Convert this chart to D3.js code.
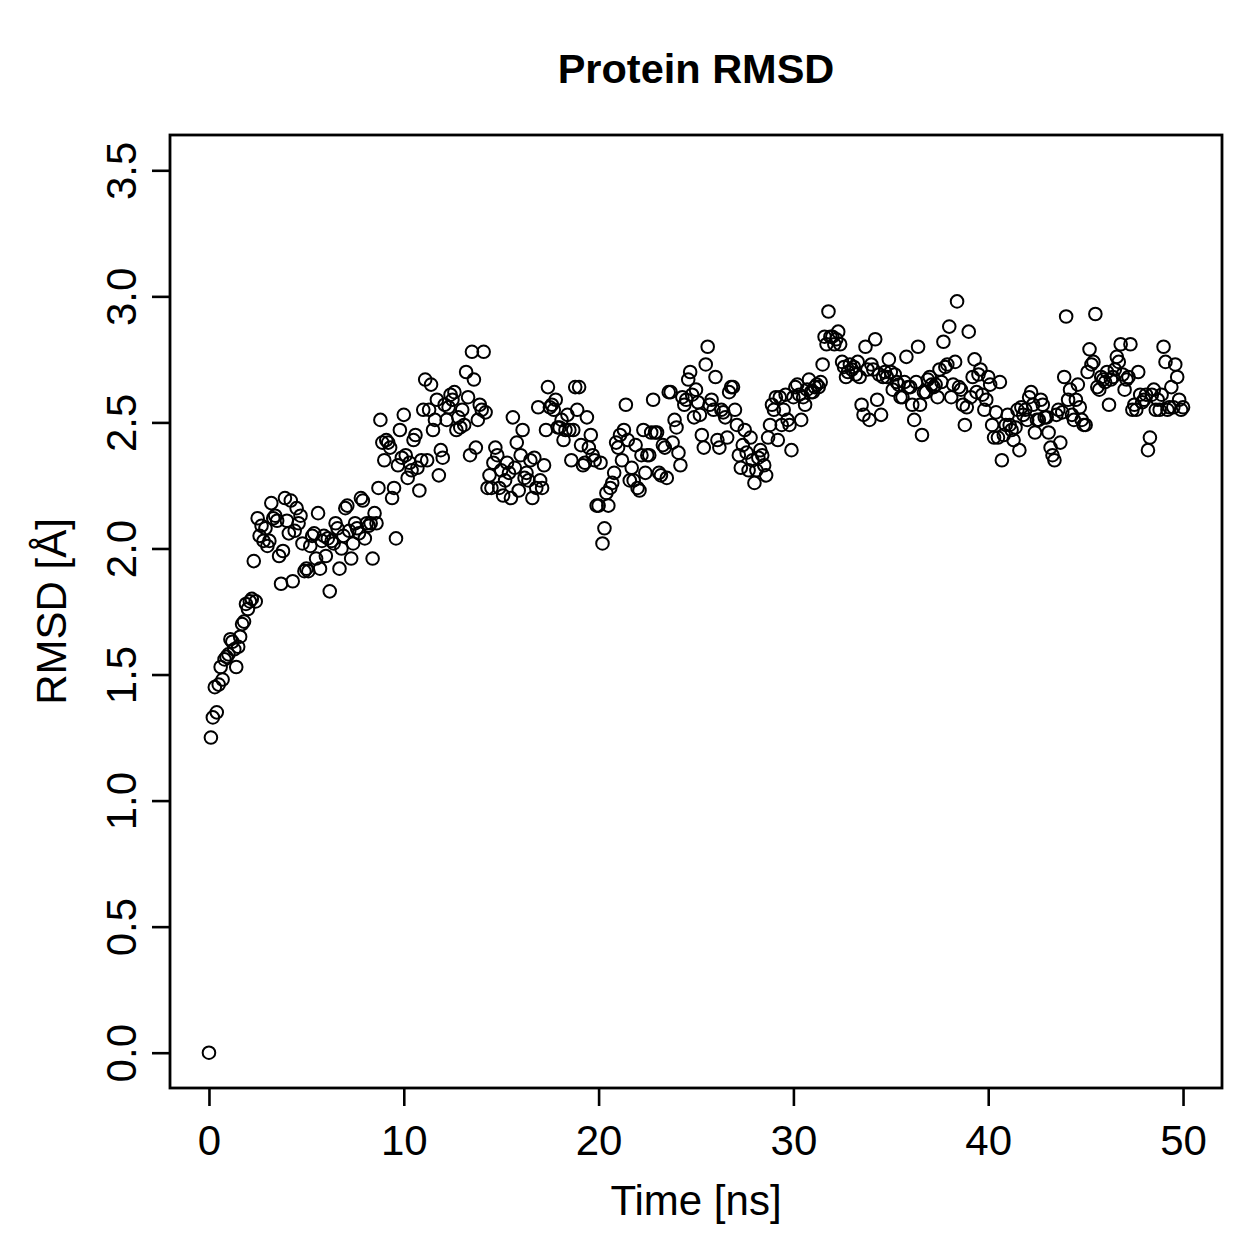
<!DOCTYPE html>
<html lang="en">
<head>
<meta charset="utf-8">
<title>Protein RMSD</title>
<script src="https://cdn.jsdelivr.net/npm/d3@7/dist/d3.min.js"></script>
<style>
    body { margin: 0; background: white; }
    svg text { font-family: "Liberation Sans", Arial, sans-serif; fill: black; }
</style>
</head>
<body>
<div id="chart"></div>
<script>
// trajectory frames every 0.1 ns, RMSD in Angstrom
const timeStep = 0.1;
const rmsd = [
    0.00, 1.25, 1.33, 1.45, 1.35, 1.46, 1.53, 1.48, 1.56, 1.57,
    1.58, 1.64, 1.63, 1.60, 1.53, 1.61, 1.65, 1.70, 1.71, 1.78,
    1.76, 1.79, 1.80, 1.95, 1.79, 2.12, 2.05, 2.09, 2.03, 2.08,
    2.01, 2.03, 2.18, 2.12, 2.13, 2.11, 1.97, 1.86, 1.99, 2.20,
    2.11, 2.06, 2.19, 1.87, 2.07, 2.16, 2.10, 2.13, 2.02, 1.91,
    1.92, 1.91, 2.01, 2.05, 2.06, 1.96, 2.14, 1.92, 2.03, 2.05,
    1.97, 2.04, 1.83, 2.03, 2.02, 2.10, 2.08, 1.92, 2.00, 2.05,
    2.16, 2.17, 2.07, 1.96, 2.02, 2.10, 2.08, 2.06, 2.20, 2.19,
    2.04, 2.10, 2.09, 2.10, 1.96, 2.14, 2.10, 2.24, 2.51, 2.42,
    2.35, 2.43, 2.42, 2.40, 2.20, 2.24, 2.04, 2.33, 2.47, 2.36,
    2.53, 2.37, 2.28, 2.34, 2.31, 2.43, 2.45, 2.32, 2.23, 2.35,
    2.55, 2.67, 2.35, 2.55, 2.65, 2.47, 2.51, 2.59, 2.29, 2.39,
    2.36, 2.57, 2.51, 2.56, 2.61, 2.59, 2.62, 2.47, 2.52, 2.48,
    2.55, 2.49, 2.70, 2.60, 2.37, 2.78, 2.67, 2.40, 2.51, 2.57,
    2.55, 2.78, 2.54, 2.24, 2.29, 2.24, 2.34, 2.40, 2.37, 2.24,
    2.31, 2.21, 2.27, 2.34, 2.30, 2.20, 2.52, 2.32, 2.42, 2.23,
    2.37, 2.47, 2.28, 2.30, 2.27, 2.35, 2.20, 2.36, 2.24, 2.56,
    2.27, 2.24, 2.33, 2.47, 2.64, 2.56, 2.57, 2.55, 2.59, 2.48,
    2.48, 2.51, 2.43, 2.47, 2.53, 2.47, 2.35, 2.47, 2.64, 2.55,
    2.64, 2.41, 2.33, 2.34, 2.52, 2.40, 2.45, 2.37, 2.35, 2.17,
    2.17, 2.34, 2.02, 2.08, 2.22, 2.17, 2.24, 2.26, 2.30, 2.42,
    2.40, 2.45, 2.35, 2.47, 2.57, 2.43, 2.27, 2.32, 2.27, 2.41,
    2.24, 2.23, 2.37, 2.47, 2.30, 2.37, 2.37, 2.46, 2.59, 2.46,
    2.46, 2.30, 2.29, 2.41, 2.40, 2.28, 2.62, 2.62, 2.42, 2.51,
    2.48, 2.38, 2.33, 2.60, 2.57, 2.59, 2.67, 2.70, 2.61, 2.52,
    2.63, 2.58, 2.53, 2.45, 2.40, 2.73, 2.80, 2.57, 2.59, 2.55,
    2.68, 2.43, 2.40, 2.55, 2.54, 2.52, 2.44, 2.62, 2.64, 2.64,
    2.55, 2.49, 2.37, 2.32, 2.41, 2.47, 2.38, 2.31, 2.44, 2.35,
    2.26, 2.31, 2.36, 2.39, 2.37, 2.33, 2.29, 2.44, 2.49, 2.57,
    2.55, 2.60, 2.43, 2.60, 2.49, 2.55, 2.61, 2.51, 2.49, 2.39,
    2.60, 2.64, 2.65, 2.61, 2.51, 2.60, 2.57, 2.63, 2.67, 2.62,
    2.62, 2.64, 2.65, 2.64, 2.66, 2.73, 2.84, 2.81, 2.94, 2.84,
    2.84, 2.81, 2.83, 2.86, 2.81, 2.74, 2.72, 2.68, 2.70, 2.73,
    2.71, 2.72, 2.69, 2.74, 2.68, 2.57, 2.53, 2.80, 2.71, 2.51,
    2.73, 2.71, 2.83, 2.59, 2.69, 2.53, 2.68, 2.70, 2.68, 2.75,
    2.70, 2.63, 2.69, 2.66, 2.65, 2.60, 2.60, 2.66, 2.76, 2.64,
    2.64, 2.57, 2.51, 2.66, 2.80, 2.57, 2.45, 2.62, 2.62, 2.67,
    2.68, 2.65, 2.64, 2.65, 2.60, 2.71, 2.66, 2.82, 2.72, 2.73,
    2.88, 2.60, 2.65, 2.74, 2.98, 2.64, 2.63, 2.57, 2.49, 2.56,
    2.86, 2.60, 2.68, 2.75, 2.62, 2.69, 2.71, 2.61, 2.55, 2.59,
    2.68, 2.65, 2.49, 2.44, 2.54, 2.44, 2.66, 2.35, 2.45, 2.49,
    2.53, 2.49, 2.47, 2.43, 2.48, 2.55, 2.39, 2.56, 2.53, 2.55,
    2.51, 2.60, 2.62, 2.57, 2.46, 2.51, 2.51, 2.59, 2.57, 2.52,
    2.52, 2.46, 2.40, 2.37, 2.35, 2.53, 2.55, 2.42, 2.54, 2.68,
    2.92, 2.59, 2.63, 2.53, 2.51, 2.59, 2.65, 2.56, 2.51, 2.49,
    2.49, 2.70, 2.79, 2.73, 2.74, 2.93, 2.64, 2.63, 2.68, 2.67,
    2.66, 2.70, 2.57, 2.67, 2.68, 2.71, 2.76, 2.74, 2.81, 2.69,
    2.63, 2.67, 2.68, 2.81, 2.55, 2.57, 2.55, 2.70, 2.61, 2.58,
    2.59, 2.61, 2.39, 2.44, 2.61, 2.63, 2.55, 2.59, 2.55, 2.61,
    2.80, 2.74, 2.55, 2.56, 2.64, 2.56, 2.73, 2.68, 2.59, 2.55,
    2.56
];
const xTicks = [0, 10, 20, 30, 40, 50];
const yTicks = [0.0, 0.5, 1.0, 1.5, 2.0, 2.5, 3.0, 3.5];

const width = 1259, height = 1259;
const box = { left: 170, right: 1222, top: 135, bottom: 1088 };
const labelSize = 42;

const svg = d3.select("#chart").append("svg")
    .attr("width", width)
    .attr("height", height);

// R style: limits padded by 4%
const x = d3.scaleLinear().domain([-2, 52]).range([box.left, box.right]);
const y = d3.scaleLinear().domain([-0.14, 3.64]).range([box.bottom, box.top]);

const points = rmsd.map((v, i) => ({ t: +(i * timeStep).toFixed(1), v: v }));

svg.append("g")
    .selectAll("circle")
    .data(points)
    .enter().append("circle")
    .attr("cx", d => x(d.t))
    .attr("cy", d => y(d.v))
    .attr("r", 6.3)
    .attr("fill", "none")
    .attr("stroke", "black")
    .attr("stroke-width", 2);

// x axis
const xAxis = svg.append("g")
    .attr("transform", `translate(0,${box.bottom})`)
    .call(d3.axisBottom(x).tickValues(xTicks).tickSize(18).tickFormat(d3.format("d")));
xAxis.select(".domain").remove();
xAxis.selectAll("line").attr("stroke-width", 2.6);
xAxis.selectAll("text")
    .attr("font-size", labelSize)
    .attr("fill", "black")
    .attr("dy", null)
    .attr("y", 67);

// y axis, labels turned like R's las = 0
const yAxis = svg.append("g")
    .attr("transform", `translate(${box.left},0)`)
    .call(d3.axisLeft(y).tickValues(yTicks).tickSize(18).tickFormat(d3.format(".1f")));
yAxis.select(".domain").remove();
yAxis.selectAll("line").attr("stroke-width", 2.6);
yAxis.selectAll("text")
    .attr("font-size", labelSize)
    .attr("fill", "black")
    .attr("text-anchor", "middle")
    .attr("x", 0)
    .attr("dy", null)
    .attr("y", -34)
    .attr("transform", "rotate(-90)");

// plot frame
svg.append("rect")
    .attr("x", box.left)
    .attr("y", box.top)
    .attr("width", box.right - box.left)
    .attr("height", box.bottom - box.top)
    .attr("fill", "none")
    .attr("stroke", "black")
    .attr("stroke-width", 2.8);

svg.append("text")
    .attr("x", (box.left + box.right) / 2)
    .attr("y", 83)
    .attr("text-anchor", "middle")
    .attr("font-size", 41.5)
    .attr("font-weight", "bold")
    .text("Protein RMSD");

svg.append("text")
    .attr("x", (box.left + box.right) / 2)
    .attr("y", 1215)
    .attr("text-anchor", "middle")
    .attr("font-size", labelSize)
    .text("Time [ns]");

svg.append("text")
    .attr("transform", `translate(66,${(box.top + box.bottom) / 2}) rotate(-90)`)
    .attr("text-anchor", "middle")
    .attr("font-size", labelSize)
    .text("RMSD [Å]");
</script>
</body>
</html>
